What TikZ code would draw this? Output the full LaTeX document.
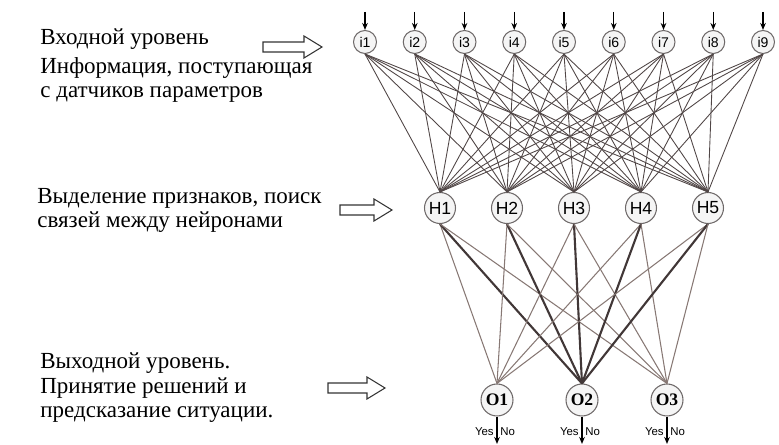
\documentclass[tikz,border=0pt]{standalone}
\usepackage{fontspec}
\setmainfont{Liberation Serif}
\setsansfont{Liberation Sans}
\usetikzlibrary{arrows.meta,positioning}
\definecolor{wirein}{RGB}{80,70,70}
\definecolor{wirethin}{RGB}{135,120,116}
\definecolor{wirethick}{RGB}{65,55,55}
\definecolor{ringcol}{RGB}{110,105,105}

\begin{document}
\begin{tikzpicture}[>=Stealth,x=0.02cm,y=-0.02cm,
  neuron/.style={circle,draw=ringcol,fill=black!4,line width=0.6pt,inner sep=0pt},
  inp/.style={neuron,minimum size=0.46cm,font=\sffamily\fontsize{8}{8}\selectfont},
  hid/.style={neuron,minimum size=0.62cm,font=\sffamily\fontsize{10}{10}\selectfont},
  outp/.style={neuron,minimum size=0.64cm,font=\rmfamily\bfseries\fontsize{10}{10}\selectfont},
  feed/.style={->,line width=0.8pt,>={Stealth[length=4pt,width=3.2pt]}},
  wirei/.style={wirein,line width=0.5pt},
  thinw/.style={wirethin,line width=0.6pt},
  thickw/.style={wirethick,line width=1.2pt},
  hollow/.style={draw=black!80,fill=white,line width=0.6pt},
  caption/.style={anchor=base west,align=left,inner sep=0pt,
    font=\rmfamily\fontsize{13.1}{14.2}\selectfont},
  yesno/.style={font=\sffamily\fontsize{6.5}{6.5}\selectfont,inner sep=1.5pt}]
  \useasboundingbox (0,0) rectangle (779,445);

  % layers
  \foreach \k [evaluate=\k as \xk using 365+49.75*(\k-1)] in {1,...,9} {
    \node[inp] (i\k) at (\xk,42) {i\k};
    \coordinate (t\k) at (\xk,12);
    \draw[feed] (t\k) -- (i\k);
  }
  \foreach \j [evaluate=\j as \xj using 440+67*(\j-1)] in {1,...,5}
    \node[hid] (h\j) at (\xj,208) {H\j};
  \foreach \m [evaluate=\m as \xm using 497+85*(\m-1)] in {1,2,3} {
    \node[outp] (o\m) at (\xm,400) {O\m};
    \coordinate (e\m) at (\xm,444);
    \draw[feed] (o\m) -- (e\m)
      node[yesno,pos=0.55,left] (y\m) {Yes}
      node[yesno,pos=0.55,right] (n\m) {No};
  }

  % connections
  \foreach \k in {1,...,9}
    \foreach \j in {1,...,5}
      \draw[wirei] (i\k.south) -- (h\j.north);
  \foreach \j in {1,...,5}
    \foreach \m/\st in {1/thinw,2/thickw,3/thinw}
      \draw[\st] (h\j.south) -- (o\m.north);

  % captions (base = last line)
  \node[caption] (c1) at (40,45) {Входной уровень};
  \node[caption] (c2) at (40,98) {Информация, поступающая\\с датчиков параметров};
  \node[caption] (c3) at (37,228) {Выделение признаков, поиск\\связей между нейронами};
  \node[caption] (c4) at (40,418) {Выходной уровень.\\Принятие решений и\\предсказание ситуации.};

  % hollow arrows
  \foreach \xa/\xb/\ya in {263/322/47, 340/392/210, 328/385/388}
    \draw[hollow] (\xa,\ya-5) -- (\xb-18,\ya-5) -- (\xb-18,\ya-11) -- (\xb,\ya)
      -- (\xb-18,\ya+11) -- (\xb-18,\ya+5) -- (\xa,\ya+5) -- cycle;
\end{tikzpicture}
\end{document}
